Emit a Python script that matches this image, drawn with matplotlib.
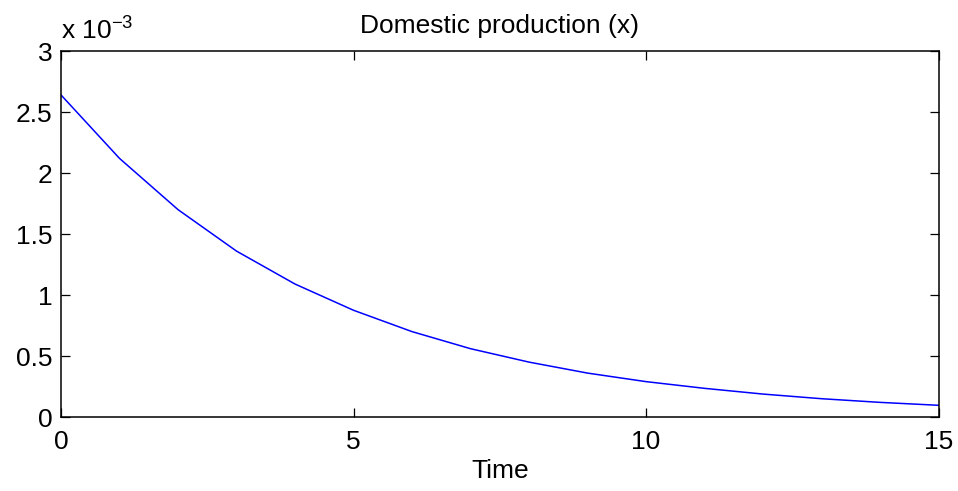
import matplotlib
matplotlib.use("Agg")
import matplotlib.pyplot as plt
from matplotlib.ticker import FuncFormatter

# time steps and domestic production values (units of 1e-3)
time = [0, 1, 2, 3, 4, 5, 6, 7, 8, 9, 10, 11, 12, 13, 14, 15]
production_e3 = [2.64, 2.12, 1.70, 1.36, 1.09, 0.875, 0.70, 0.56, 0.45,
                 0.36, 0.29, 0.235, 0.188, 0.150, 0.120, 0.096]
production = [v * 1e-3 for v in production_e3]

plt.rcParams["font.family"] = ["Liberation Sans", "DejaVu Sans"]
plt.rcParams["mathtext.fontset"] = "custom"
plt.rcParams["mathtext.rm"] = "Liberation Sans"
plt.rcParams["mathtext.it"] = "Liberation Sans:italic"

FS = 19

fig = plt.figure(figsize=(9.58, 4.91), dpi=100)
ax = fig.add_axes([0.0637, 0.1507, 0.916, 0.7453])

ax.plot(time, production, color="#0000ff", linewidth=1.1)

ax.set_xlim(0, 15)
ax.set_ylim(0, 3e-3)
ax.set_xticks([0, 5, 10, 15])
ax.set_yticks([0, 0.5e-3, 1e-3, 1.5e-3, 2e-3, 2.5e-3, 3e-3])
ax.yaxis.set_major_formatter(FuncFormatter(lambda v, p: f"{v * 1e3:g}"))
ax.tick_params(direction="in", length=6.5, width=0.9, top=True, right=True,
               labelsize=FS)
ax.tick_params(axis="x", pad=9)
ax.tick_params(axis="y", pad=6)
for s in ax.spines.values():
    s.set_linewidth(1.1)

ax.set_title("Domestic production (x)", fontsize=FS, pad=13)
ax.set_xlabel("Time", fontsize=FS, labelpad=4)
ax.text(0.0, 1.03, r"x 10$^{-3}$", transform=ax.transAxes, fontsize=FS,
        ha="left", va="baseline")

fig.savefig("out.png", dpi=100)
